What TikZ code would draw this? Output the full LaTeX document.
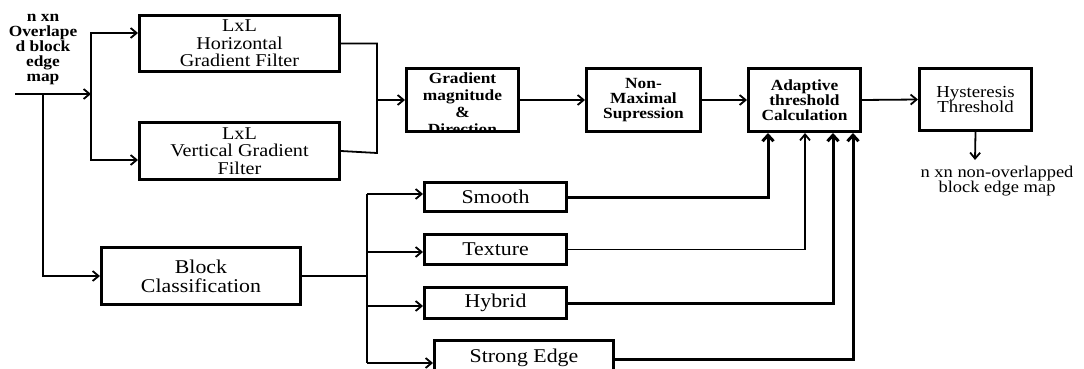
\documentclass[tikz,border=0pt]{standalone}
\usepackage{fontspec}
\setmainfont{Liberation Serif}[FakeStretch=1.12]
\usetikzlibrary{arrows.meta}
\newcommand\fBig{\fontsize{19.5}{19}\selectfont}
\newcommand\fFilt{\fontsize{18}{17.5}\selectfont}
\newcommand\fBld{\fontsize{15.5}{15}\selectfont\bfseries}
\newcommand\fGm{\fontsize{15.5}{17}\selectfont\bfseries}
\newcommand\fHys{\fontsize{16.8}{15.5}\selectfont}
\newcommand\fOutl{\fontsize{16.5}{15}\selectfont}
\begin{document}
\begin{tikzpicture}[x=1pt,y=-1pt,
  box/.style={draw, line width=3pt, inner sep=0pt, align=center},
  conn/.style={line width=1.8pt},
  arr/.style={conn, -{Straight Barb[length=6pt,width=10pt]}},
  tarr/.style={line width=3pt, -{Straight Barb[length=6pt,width=11pt]}},
  lbl/.style={align=center, inner sep=0pt}]
\clip (0,0) rectangle (1084,369);
\fill[white] (0,0) rectangle (1084,369);

% input label
\node[lbl, font=\fBld] (inl) at (43,49) {n xn\\Overlape\\d block\\edge\\map};

% boxes
\node[box, minimum width=200pt, minimum height=56pt, font=\fFilt] (hf) at (239.5,43.5) {LxL\\Horizontal\\Gradient Filter};
\node[box, minimum width=200pt, minimum height=57pt, font=\fFilt] (vf) at (239.5,151) {LxL\\Vertical Gradient\\Filter};

\begin{scope}
\clip (406.5,68.5) rectangle (518.5,131.5);
\node[lbl, font=\fGm] (gmt) at (462.5,104) {Gradient\\magnitude\\\&\\Direction};
\end{scope}
\node[box, minimum width=112pt, minimum height=63pt] (gm) at (462.5,100) {};
\node[box, minimum width=114pt, minimum height=63pt, font=\fBld] (nm) at (643.5,100) {Non-\\Maximal\\Supression};
\node[box, minimum width=112pt, minimum height=63pt, font=\fBld] (at) at (804.5,100) {Adaptive\\threshold\\Calculation};
\node[box, minimum width=112pt, minimum height=62pt, font=\fHys] (hy) at (975.5,99.5) {Hysteresis\\Threshold};
\node[lbl, font=\fOutl] (outl) at (997,181) {n xn non-overlapped\\block edge map};

\node[box, minimum width=199pt, minimum height=57pt, font=\fBig] (bc) at (201,276) {Block\\Classification};
\node[box, minimum width=142pt, minimum height=29pt, font=\fBig] (sm) at (495.5,197) {Smooth};
\node[box, minimum width=142pt, minimum height=30pt, font=\fBig] (tx) at (495.5,249.5) {Texture};
\node[box, minimum width=142pt, minimum height=31pt, font=\fBig] (hb) at (495.5,303) {Hybrid};
\node[box, minimum width=179pt, minimum height=34pt, font=\fBig] (se) at (524,357.5) {Strong Edge};

% coordinates
\coordinate (in0) at (15,94);
\coordinate (j1) at (91,94);
\coordinate (j2) at (43,94);
\coordinate (j3) at (377,100);
\coordinate (j4) at (377,153);
\coordinate (jt) at (367,194);
\coordinate (jb) at (367,363);
\coordinate (hyo) at (975,160);

% input connectors
\draw[arr] (in0) -- (j1);
\draw[arr] (j1) |- ([yshift=10.5pt]hf.west);
\draw[arr] (j1) |- ([yshift=-9pt]vf.west);
\draw[arr] (j2) |- (bc.west);

% filters to gradient
\draw[conn] (hf.east) -| (j4) -- (vf.east);
\draw[arr] (j3) -- (gm.west);

% main chain
\draw[arr] (gm.east) -- (nm.west);
\draw[arr] (nm.east) -- (at.west);
\draw[arr] (at.east) -- (hy.west);
\draw[arr] (hy.south) -- (hyo);

% block classification fan
\draw[conn] (bc.east) -- (bc.east -| jt);
\draw[conn] (jt) -- (jb);
\draw[arr] (jt) -- ([yshift=3pt]sm.west);
\draw[arr] ([yshift=-2.5pt]tx.west -| jt) -- ([yshift=-2.5pt]tx.west);
\draw[arr] ([yshift=-3pt]hb.west -| jt) -- ([yshift=-3pt]hb.west);
\draw[arr] (jb) -- ([yshift=-5.5pt]se.west);

% classes to adaptive
\draw[tarr] (sm.east) -| ([xshift=-36.5pt]at.south);
\draw[arr] (tx.east) -| ([xshift=0.5pt]at.south);
\draw[tarr] (hb.east) -| ([xshift=28.5pt]at.south);
\draw[tarr] ([yshift=-1.5pt]se.east) -| ([xshift=48.5pt]at.south);
\end{tikzpicture}
\end{document}
